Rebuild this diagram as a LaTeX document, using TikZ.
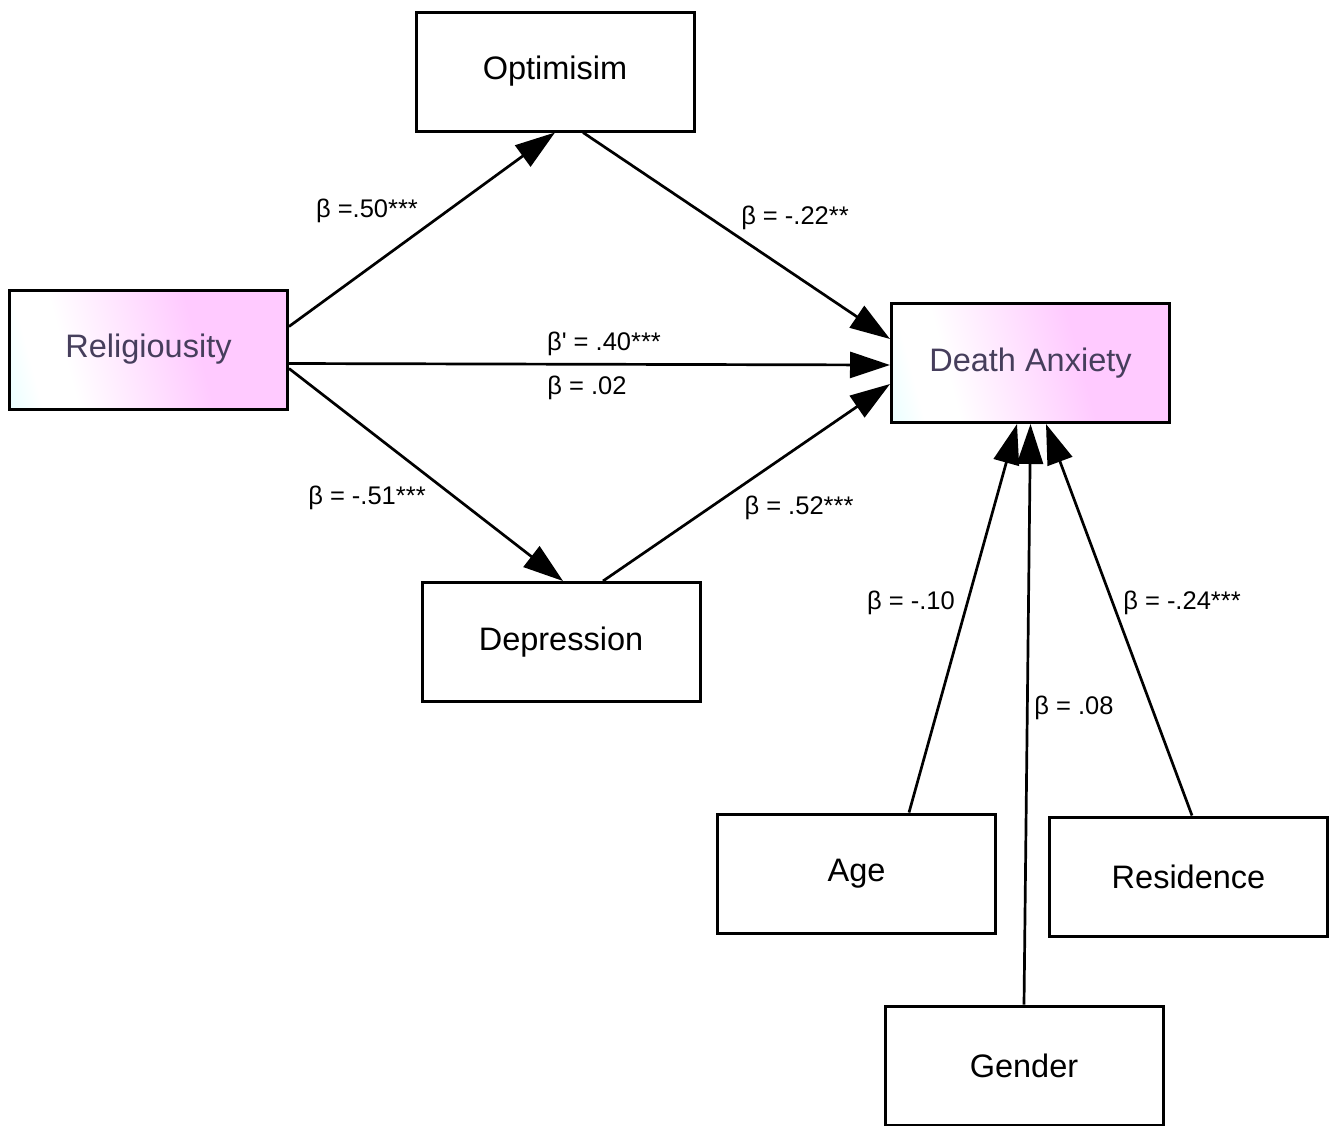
\documentclass[tikz,border=0pt]{standalone}
\usepackage{fontspec}
\setmainfont{Liberation Sans}
\usetikzlibrary{arrows.meta,calc}
\definecolor{lcyan}{RGB}{236,255,255}
\definecolor{lpink}{RGB}{255,202,255}
\definecolor{ttxt}{RGB}{70,62,92}
\pgfdeclarehorizontalshading{keyshade}{100bp}{color(0bp)=(lcyan); color(20bp)=(lcyan); color(26bp)=(white); color(33bp)=(white); color(60bp)=(lpink); color(100bp)=(lpink)}
\tikzset{
  box/.style={draw=black, line width=3pt, fill=white, minimum width=278pt, minimum height=119pt, inner sep=0pt,
    font=\fontsize{32.5}{38}\selectfont},
  keybox/.style={box, shading=keyshade, shading angle=15, text=ttxt},
  conn/.style={line width=2.7pt, -{Triangle[length=40pt,width=26pt]}},
  lab/.style={font=\fontsize{25.5}{30}\selectfont, inner sep=0pt}
}
\begin{document}
\begin{tikzpicture}[x=1pt,y=-1pt]
\useasboundingbox[fill=white] (0,0) rectangle (1335,1125);
\node[box] (opt) at (555,71.5) {Optimisim};
\node[keybox] (rel) at (148.5,349.5) {Religiousity};
\node[keybox] (da) at (1030.5,363) {Death Anxiety};
\node[box] (dep) at (561,642) {Depression};
\node[box] (age) at (856.5,873.5) {Age};
\node[box] (res) at (1188.5,876.5) {Residence};
\node[box] (gen) at (1024,1065.5) {Gender};

\draw[conn] ($(rel.north east)+(0,38)$) -- (opt.south);
\draw[conn] ($(opt.south)+(28,0)$) -- ($(da.north west)+(0,37)$);
\draw[conn] ($(rel.north east)+(0,75)$) -- ($(da.north west)+(0,63)$);
\draw[conn] ($(rel.north east)+(0,80)$) -- ($(dep.north)+(2,0)$);
\draw[conn] ($(dep.north)+(42,0)$) -- ($(da.north west)+(0,82)$);
\draw[conn] ($(age.north)+(52.5,0)$) -- ($(da.south)+(-13.5,0)$);
\draw[conn] (gen.north) -- (da.south);
\draw[conn] ($(res.north)+(3.5,0)$) -- ($(da.south)+(15.5,0)$);

\node[lab] (l1) at (367,211) {β =.50***};
\node[lab] (l2) at (795,218) {β = -.22**};
\node[lab] (l3) at (604,344) {β\textquotesingle{} = .40***};
\node[lab] (l4) at (587,388) {β = .02};
\node[lab] (l5) at (367,498) {β = -.51***};
\node[lab] (l6) at (799,508) {β = .52***};
\node[lab] (l7) at (911,603) {β = -.10};
\node[lab] (l8) at (1074,708) {β = .08};
\node[lab] (l9) at (1182,603) {β = -.24***};
\end{tikzpicture}
\end{document}
